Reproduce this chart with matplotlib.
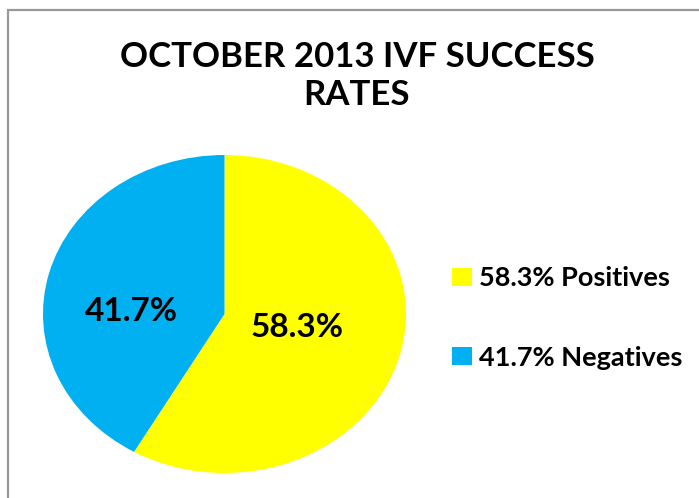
import matplotlib
matplotlib.use('Agg')
import matplotlib.pyplot as plt
from matplotlib.patches import Rectangle

title = 'OCTOBER 2013 IVF SUCCESS\nRATES'
categories = ['Positives', 'Negatives']
shares = [58.3, 41.7]
colors = ['#FFFF00', '#00B0F0']

plt.rcParams['font.family'] = ['Lato', 'DejaVu Sans']

fig = plt.figure(figsize=(6.99, 4.98), dpi=100)
fig.patch.set_facecolor('white')

# chart frame, only top and left edges are visible in the crop
fig.patches.append(Rectangle((7.5/699, -0.2), 1.2, (498-10)/498 + 0.2,
                             transform=fig.transFigure, fill=False,
                             edgecolor='#999999', lw=1.6))

fig.text(357/699, 1 - 41/498, title, ha='center', va='top',
         fontsize=25, fontweight='bold', linespacing=1.24)

# pie is stretched to an ellipse, as in the original
ax = fig.add_axes([43/699, 25/498, 363/699, 318/498])
wedges, texts, autotexts = ax.pie(shares, colors=colors, startangle=90,
                                  counterclock=False, autopct='%1.1f%%',
                                  wedgeprops=dict(linewidth=0),
                                  textprops=dict(fontsize=24, fontweight='bold'))
ax.set_aspect('auto')
ax.set_xlim(-1, 1)
ax.set_ylim(-1, 1)

label_pos = [(0.40, -0.088), (-0.512, 0.016)]
for t, p in zip(autotexts, label_pos):
    t.set_position(p)
    t.set_ha('center')
    t.set_va('center')

labels = ['%.1f%% %s' % (s, c) for s, c in zip(shares, categories)]
fig.legend(wedges, labels, loc='center left', bbox_to_anchor=(452/699, 1 - 318/498),
           frameon=False, prop=dict(size=19.5, weight='bold'),
           handlelength=0.72, handleheight=0.65, handletextpad=0.27,
           labelspacing=2.05, borderpad=0, borderaxespad=0)

fig.savefig('out.png', dpi=100, facecolor='white')
